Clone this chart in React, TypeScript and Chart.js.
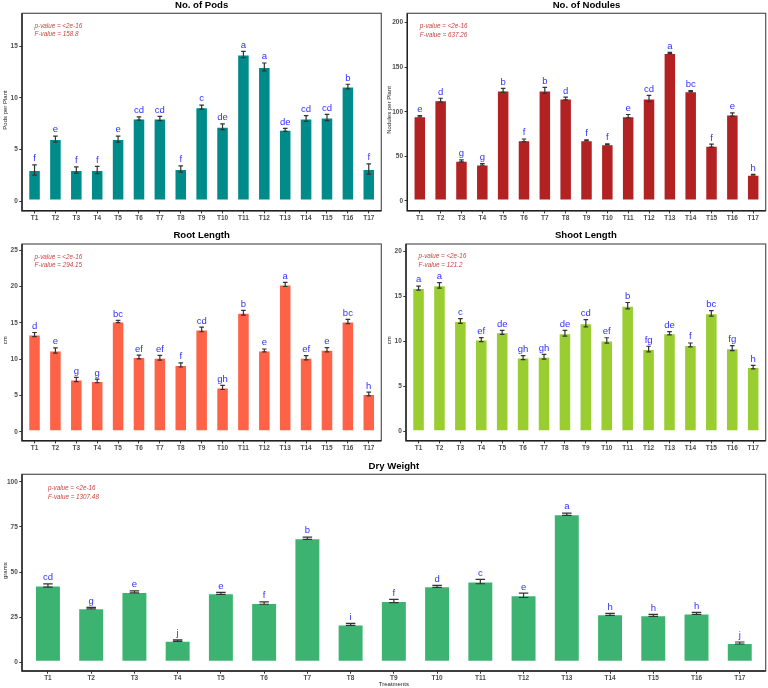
import React, { useEffect, useRef } from 'react';
import { Chart, registerables } from 'chart.js';

Chart.register(...registerables);

const FONT = '"Liberation Sans", Arial, sans-serif';

// treatments on the x axis
const treatments = ['T1', 'T2', 'T3', 'T4', 'T5', 'T6', 'T7', 'T8', 'T9', 'T10', 'T11', 'T12', 'T13', 'T14', 'T15', 'T16', 'T17'];

// No. of Pods
const podsMean = [3.0, 6.0, 3.0, 3.0, 6.0, 8.0, 8.0, 3.1, 9.1, 7.2, 14.2, 13.0, 6.9, 8.0, 8.1, 11.1, 3.1];
const podsSe = [0.5, 0.3, 0.3, 0.35, 0.3, 0.15, 0.2, 0.3, 0.2, 0.27, 0.3, 0.38, 0.15, 0.27, 0.3, 0.22, 0.5];
const podsLetters = ['f', 'e', 'f', 'f', 'e', 'cd', 'cd', 'f', 'c', 'de', 'a', 'a', 'de', 'cd', 'cd', 'b', 'f'];
const podsTicks = [0, 5, 10, 15];

// No. of Nodules
const nodMean = [95, 113, 45, 41, 124, 68, 124, 115, 68, 63.5, 95, 115, 166, 123, 62, 97, 29.5];
const nodSe = [0.8, 2.2, 1.1, 0.9, 2.2, 1.5, 3.4, 1.5, 0.5, 0.5, 2.0, 3.5, 0.7, 0.7, 1.7, 1.9, 0.4];
const nodLetters = ['e', 'd', 'g', 'g', 'b', 'f', 'b', 'd', 'f', 'f', 'e', 'cd', 'a', 'bc', 'f', 'e', 'h'];
const nodTicks = [0, 50, 100, 150, 200];

// Root Length
const rootMean = [13.4, 11.2, 7.2, 7.0, 15.2, 10.3, 10.2, 9.2, 14.1, 6.1, 16.4, 11.2, 20.3, 10.2, 11.3, 15.2, 5.2];
const rootSe = [0.28, 0.37, 0.3, 0.25, 0.16, 0.25, 0.32, 0.28, 0.32, 0.28, 0.34, 0.2, 0.28, 0.3, 0.3, 0.3, 0.25];
const rootLetters = ['d', 'e', 'g', 'g', 'bc', 'ef', 'ef', 'f', 'cd', 'gh', 'b', 'e', 'a', 'ef', 'e', 'bc', 'h'];
const rootTicks = [0, 5, 10, 15, 20, 25];

// Shoot Length
const shootMean = [15.9, 16.2, 12.25, 10.2, 11.0, 8.2, 8.3, 10.9, 12.0, 10.1, 13.95, 9.15, 10.9, 9.6, 13.1, 9.25, 7.15];
const shootSe = [0.22, 0.31, 0.26, 0.22, 0.22, 0.22, 0.26, 0.31, 0.4, 0.3, 0.35, 0.31, 0.18, 0.22, 0.31, 0.28, 0.2];
const shootLetters = ['a', 'a', 'c', 'ef', 'de', 'gh', 'gh', 'de', 'cd', 'ef', 'b', 'fg', 'de', 'f', 'bc', 'fg', 'h'];
const shootTicks = [0, 5, 10, 15, 20];

// Dry Weight
const dryMean = [42.5, 30, 39, 12, 38.2, 32.8, 68.7, 21, 34, 42.1, 44.7, 37.1, 82, 26.6, 26, 27.1, 10.7];
const drySe = [0.9, 0.45, 0.55, 0.45, 0.55, 0.65, 0.65, 0.55, 0.9, 0.55, 1.2, 1.2, 0.65, 0.55, 0.55, 0.55, 0.55];
const dryLetters = ['cd', 'g', 'e', 'j', 'e', 'f', 'b', 'i', 'f', 'd', 'c', 'e', 'a', 'h', 'h', 'h', 'j'];
const dryTicks = [0, 25, 50, 75, 100];

interface Panel {
  title: string;
  yTitle: string;
  xTitle?: string;
  color: string;
  mean: number[];
  se: number[];
  letters: string[];
  yTicks: number[];
  yMin: number;
  yMax: number;
  pValue: string;
  fValue: string;
  statsY: [number, number];
  box: { left: number; top: number; width: number; height: number };
  area: { left: number; top: number; right: number; bottom: number };
}

const panels: Panel[] = [
  {
    title: 'No. of Pods', yTitle: 'Pods per Plant', color: '#008B8B',
    mean: podsMean, se: podsSe, letters: podsLetters, yTicks: podsTicks, yMin: -0.94, yMax: 18.2,
    pValue: '<2e-16', fValue: '158.8', statsY: [14.3, 23],
    box: { left: 0, top: 0, width: 384, height: 228 },
    area: { left: 22, top: 13.3, right: 381.3, bottom: 210.7 },
  },
  {
    title: 'No. of Nodules', yTitle: 'Nodules per Plant', color: '#B22222',
    mean: nodMean, se: nodSe, letters: nodLetters, yTicks: nodTicks, yMin: -10.9, yMax: 210.5,
    pValue: '<2e-16', fValue: '637.26', statsY: [14.8, 23.6],
    box: { left: 384, top: 0, width: 384, height: 228 },
    area: { left: 407.3, top: 13.3, right: 765.7, bottom: 210.7 },
  },
  {
    title: 'Root Length', yTitle: 'cm', color: '#FF6347',
    mean: rootMean, se: rootSe, letters: rootLetters, yTicks: rootTicks, yMin: -1.24, yMax: 25.88,
    pValue: '<2e-16', fValue: '294.15', statsY: [14.5, 23.2],
    box: { left: 0, top: 230, width: 384, height: 228 },
    area: { left: 22, top: 244, right: 381.3, bottom: 440.7 },
  },
  {
    title: 'Shoot Length', yTitle: 'cm', color: '#9ACD32',
    mean: shootMean, se: shootSe, letters: shootLetters, yTicks: shootTicks, yMin: -1.0, yMax: 20.78,
    pValue: '<2e-16', fValue: '121.2', statsY: [14.3, 23],
    box: { left: 384, top: 230, width: 384, height: 228 },
    area: { left: 406, top: 244, right: 765.7, bottom: 440.7 },
  },
  {
    title: 'Dry Weight', yTitle: 'grams', xTitle: 'Treatments', color: '#3CB371',
    mean: dryMean, se: drySe, letters: dryLetters, yTicks: dryTicks, yMin: -4.8, yMax: 104.1,
    pValue: '<2e-16', fValue: '1307.48', statsY: [16, 24.8],
    box: { left: 0, top: 460, width: 768, height: 228 },
    area: { left: 22, top: 474.3, right: 765.7, bottom: 671 },
  },
];

// error bars, letters, stats text, panel border and titles
const decor = (p: Panel) => ({
  id: 'decor',
  afterDatasetsDraw(chart: any) {
    const { ctx, chartArea: a } = chart;
    const x = chart.scales.x;
    const y = chart.scales.y;
    ctx.save();

    const cap = x.getPixelForValue(1.11) - x.getPixelForValue(1);
    p.mean.forEach((m, i) => {
      const cx = x.getPixelForValue(i + 1);
      const top = y.getPixelForValue(m + p.se[i]);
      const bot = y.getPixelForValue(m - p.se[i]);
      ctx.strokeStyle = '#333333';
      ctx.lineWidth = 1.2;
      ctx.beginPath();
      ctx.moveTo(cx, top); ctx.lineTo(cx, bot);
      ctx.moveTo(cx - cap, top); ctx.lineTo(cx + cap, top);
      ctx.moveTo(cx - cap, bot); ctx.lineTo(cx + cap, bot);
      ctx.stroke();

      ctx.fillStyle = '#2f2fff';
      ctx.font = `9.5px ${FONT}`;
      ctx.textAlign = 'center';
      ctx.textBaseline = 'alphabetic';
      ctx.fillText(p.letters[i], cx, top - 3.6);
    });

    // ANOVA stats
    ctx.fillStyle = '#c8443f';
    ctx.font = `italic 6.3px ${FONT}`;
    ctx.textAlign = 'left';
    const sx = x.getPixelForValue(1);
    ctx.fillText(`p-value = ${p.pValue}`, sx, a.top + p.statsY[0]);
    ctx.fillText(`F-value = ${p.fValue}`, sx, a.top + p.statsY[1]);

    // panel border
    ctx.strokeStyle = '#555555';
    ctx.lineWidth = 1.2;
    ctx.strokeRect(a.left, a.top, a.right - a.left, a.bottom - a.top);
    ctx.strokeStyle = '#222222';
    ctx.lineWidth = 1.4;
    ctx.beginPath();
    ctx.moveTo(a.left, a.top); ctx.lineTo(a.left, a.bottom); ctx.lineTo(a.right, a.bottom);
    ctx.stroke();

    // title
    ctx.fillStyle = '#000000';
    ctx.font = `bold 9.6px ${FONT}`;
    ctx.textAlign = 'center';
    ctx.textBaseline = 'middle';
    ctx.fillText(p.title, (a.left + a.right) / 2, a.top - 8.3);

    // axis titles
    ctx.fillStyle = '#222222';
    ctx.font = `6px ${FONT}`;
    if (p.xTitle) ctx.fillText(p.xTitle, (a.left + a.right) / 2, chart.height - 4);
    ctx.translate(5, (a.top + a.bottom) / 2 - 2);
    ctx.rotate(-Math.PI / 2);
    ctx.fillText(p.yTitle, 0, 0);

    ctx.restore();
  },
});

function PanelChart({ p }: { p: Panel }) {
  const ref = useRef<HTMLCanvasElement>(null);

  useEffect(() => {
    if (!ref.current) return;
    const padTop = p.area.top - p.box.top;
    const padRight = p.box.left + p.box.width - p.area.right;
    const yWidth = p.area.left - p.box.left;
    const xHeight = p.box.top + p.box.height - p.area.bottom;
    const tickFont = { family: FONT, size: 6.5, weight: 'bold' as const };
    const axisGrid = {
      display: true, drawOnChartArea: false, drawTicks: true, offset: false,
      tickLength: 2.7, color: '#333333', lineWidth: 1,
    };

    const chart = new Chart(ref.current, {
      type: 'bar',
      data: {
        datasets: [
          {
            data: p.mean.map((v, i) => ({ x: i + 1, y: v })),
            backgroundColor: p.color,
            borderColor: 'rgba(255,255,255,0.55)',
            borderWidth: 1,
            borderSkipped: false,
            categoryPercentage: 1,
            barPercentage: 0.6,
          },
        ],
      },
      options: {
        animation: false,
        responsive: true,
        maintainAspectRatio: false,
        layout: { padding: { top: padTop, right: padRight, left: 0, bottom: 0 } },
        plugins: {
          legend: { display: false },
          title: { display: false },
          tooltip: { enabled: false },
        },
        scales: {
          x: {
            type: 'linear',
            offset: false,
            min: 0.4,
            max: treatments.length + 0.6,
            grid: axisGrid,
            border: { display: false },
            ticks: {
              padding: 0.5,
              font: tickFont,
              color: '#4d4d4d',
              maxRotation: 0,
              autoSkip: false,
              callback: (v: any) => treatments[Math.round(Number(v)) - 1] ?? '',
            },
            afterBuildTicks: (axis: any) => {
              axis.ticks = treatments.map((_, i) => ({ value: i + 1 }));
            },
            afterFit: (axis: any) => {
              axis.height = xHeight;
            },
          },
          y: {
            min: p.yMin,
            max: p.yMax,
            grid: axisGrid,
            border: { display: false },
            ticks: { padding: 1.5, font: tickFont, color: '#4d4d4d' },
            afterBuildTicks: (axis: any) => {
              axis.ticks = p.yTicks.map((v) => ({ value: v }));
            },
            afterFit: (axis: any) => {
              axis.width = yWidth;
            },
          },
        },
      },
      plugins: [decor(p)],
    });

    return () => {
      chart.destroy();
    };
  }, [p]);

  return (
    <div style={{ position: 'absolute', left: p.box.left, top: p.box.top, width: p.box.width, height: p.box.height }}>
      <canvas ref={ref}></canvas>
    </div>
  );
}

export default function App() {
  return (
    <div style={{ position: 'absolute', left: 0, top: 0, width: 768, height: 688, background: '#ffffff' }}>
      {panels.map((p) => (
        <PanelChart key={p.title} p={p} />
      ))}
    </div>
  );
}
